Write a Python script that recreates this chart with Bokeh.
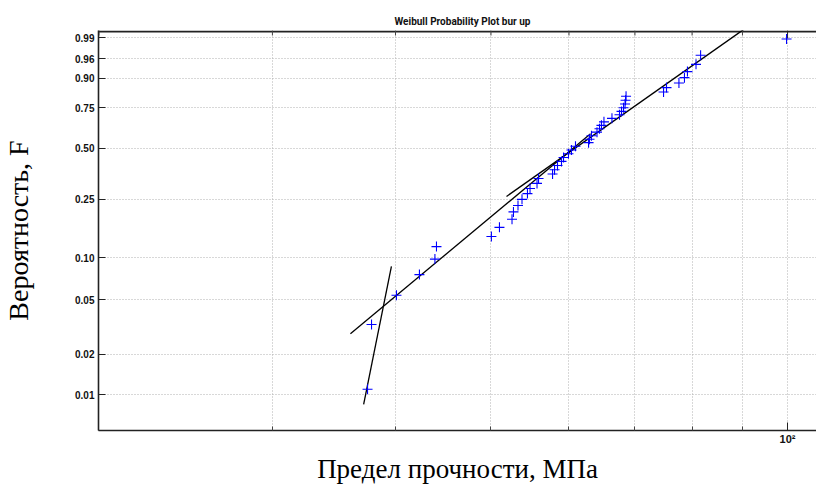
import numpy as np
from bokeh.plotting import figure
from bokeh.models import FixedTicker, Range1d
from bokeh.embed import file_html
from bokeh.resources import INLINE

# ---- data ----
strength = [37.47, 37.82, 40.09, 42.30, 43.86, 44.02, 50.05, 51.00, 52.52, 52.70,
            53.26, 53.76, 54.45, 54.78, 55.68, 55.88, 57.74, 58.01, 58.41, 58.96,
            59.24, 59.93, 60.35, 60.92, 62.81, 62.95, 63.24, 64.06, 64.43, 64.73,
            65.11, 66.34, 67.52, 67.84, 68.16, 68.40, 68.48, 68.56, 74.84, 75.36,
            77.58, 78.59, 79.14, 80.74, 81.61, 99.77]
prob = [0.011, 0.033, 0.054, 0.076, 0.098, 0.120, 0.141, 0.163, 0.185, 0.207,
        0.228, 0.250, 0.272, 0.293, 0.315, 0.337, 0.359, 0.380, 0.402, 0.424,
        0.446, 0.467, 0.489, 0.511, 0.533, 0.554, 0.576, 0.598, 0.620, 0.641,
        0.663, 0.685, 0.707, 0.728, 0.750, 0.772, 0.793, 0.815, 0.837, 0.859,
        0.880, 0.902, 0.924, 0.946, 0.967, 0.989]

fit_lower_x = [36.0, 63.1]
fit_lower_F = [0.0282, 0.588]
fit_upper_x = [51.85, 90.2]
fit_upper_F = [0.261, 0.995]
fit_steep_x = [37.13, 39.62]
fit_steep_F = [0.0085, 0.087]

y_tick_values = [0.01, 0.02, 0.05, 0.10, 0.25, 0.50, 0.75, 0.90, 0.96, 0.99]
y_tick_labels = ["0.01", "0.02", "0.05", "0.10", "0.25", "0.50", "0.75", "0.90", "0.96", "0.99"]
x_major_ticks = [100]
x_minor_ticks = [20, 30, 40, 50, 60, 70, 80, 90]
x_major_labels = ["10\u00b2"]

title_text = "Weibull Probability Plot bur up"
x_label = "Предел прочности, МПа"
y_label = "Вероятность, F"

X_START, X_END = 19.98, 107.0
Y_TOP, Y_BOTTOM = 1.652, -5.213
FRAME_H = 400


def wb(F):
    return np.log(-np.log(1.0 - np.asarray(F, dtype=float)))


p = figure(frame_width=718, frame_height=FRAME_H, x_axis_type="log",
           x_range=Range1d(X_START, X_END), y_range=Range1d(Y_BOTTOM, Y_TOP),
           output_backend="svg", toolbar_location=None,
           min_border_left=98, min_border_right=0, min_border_top=30, min_border_bottom=48)
p.outline_line_color = None
p.background_fill_color = "white"
p.border_fill_color = "white"

# title
p.title.text = title_text
p.title.align = "left"
p.title.offset = 296
p.title.text_font = "Roboto"
p.title.text_font_size = "10px"
p.title.text_font_style = "bold"
p.title.text_color = "#111111"
p.title.standoff = 8

# ticks
yt = [round(float(v), 6) for v in wb(y_tick_values)]
xticker = FixedTicker(ticks=x_major_ticks, minor_ticks=x_minor_ticks)

p.yaxis.ticker = FixedTicker(ticks=yt)
p.yaxis.major_label_overrides = {k: l for k, l in zip(yt, y_tick_labels)}
p.xaxis.ticker = xticker
p.xaxis.major_label_overrides = {k: l for k, l in zip(x_major_ticks, x_major_labels)}

for ax in (p.xaxis[0], p.yaxis[0]):
    ax.axis_line_color = "#222222"
    ax.axis_line_width = 1.6
    ax.major_tick_line_color = "#222222"
    ax.major_tick_out = 0
    ax.minor_tick_out = 0
    ax.major_label_text_font = "Liberation Sans"
    ax.major_label_text_font_style = "bold"
    ax.major_label_text_font_size = "10px"
    ax.major_label_text_color = "#111111"
    ax.axis_label_text_font = "Liberation Serif"
    ax.axis_label_text_font_style = "normal"
    ax.axis_label_text_color = "black"

p.yaxis.major_tick_in = 7
p.yaxis.minor_tick_line_color = None
p.yaxis.major_label_standoff = 4
p.yaxis.axis_label = y_label
p.yaxis.axis_label_text_font_size = "28px"
p.yaxis.axis_label_standoff = 38

p.xaxis.major_tick_in = 8
p.xaxis.minor_tick_in = 4
p.xaxis.minor_tick_line_color = "#444444"
p.xaxis.major_label_standoff = 2
p.xaxis.major_label_text_font_size = "11px"
p.xaxis.axis_label = x_label
p.xaxis.axis_label_text_font_size = "27px"
p.xaxis.axis_label_standoff = 6

# top frame edge with inward ticks, drawn as glyphs just inside the frame
unit_per_px = (Y_TOP - Y_BOTTOM) / FRAME_H
edge_y = Y_TOP - 1.0 * unit_per_px
p.segment(x0=[X_START], y0=[edge_y], x1=[X_END], y1=[edge_y],
          line_color="#222222", line_width=1.8)
p.segment(x0=x_minor_ticks, y0=[Y_TOP] * len(x_minor_ticks),
          x1=x_minor_ticks, y1=[Y_TOP - 5 * unit_per_px] * len(x_minor_ticks),
          line_color="#444444", line_width=1)
p.segment(x0=x_major_ticks, y0=[Y_TOP] * len(x_major_ticks),
          x1=x_major_ticks, y1=[Y_TOP - 8 * unit_per_px] * len(x_major_ticks),
          line_color="#222222", line_width=1)

# grid
p.xgrid.ticker = xticker
p.xgrid.grid_line_color = "#b0b0b0"
p.xgrid.grid_line_dash = "1 2"
p.xgrid.minor_grid_line_color = "#b0b0b0"
p.xgrid.minor_grid_line_dash = "1 2"
p.ygrid.grid_line_color = "#b0b0b0"
p.ygrid.grid_line_dash = "1 2"

# fit lines
p.line(fit_lower_x, wb(fit_lower_F), line_color="black", line_width=1.3)
p.line(fit_upper_x, wb(fit_upper_F), line_color="black", line_width=1.3)
p.line(fit_steep_x, wb(fit_steep_F), line_color="black", line_width=1.3)

# data points
p.scatter(strength, wb(prob), marker="cross", size=10, line_color="#0000ff", line_width=1.1)

open("out.html", "w").write(file_html(p, INLINE))
